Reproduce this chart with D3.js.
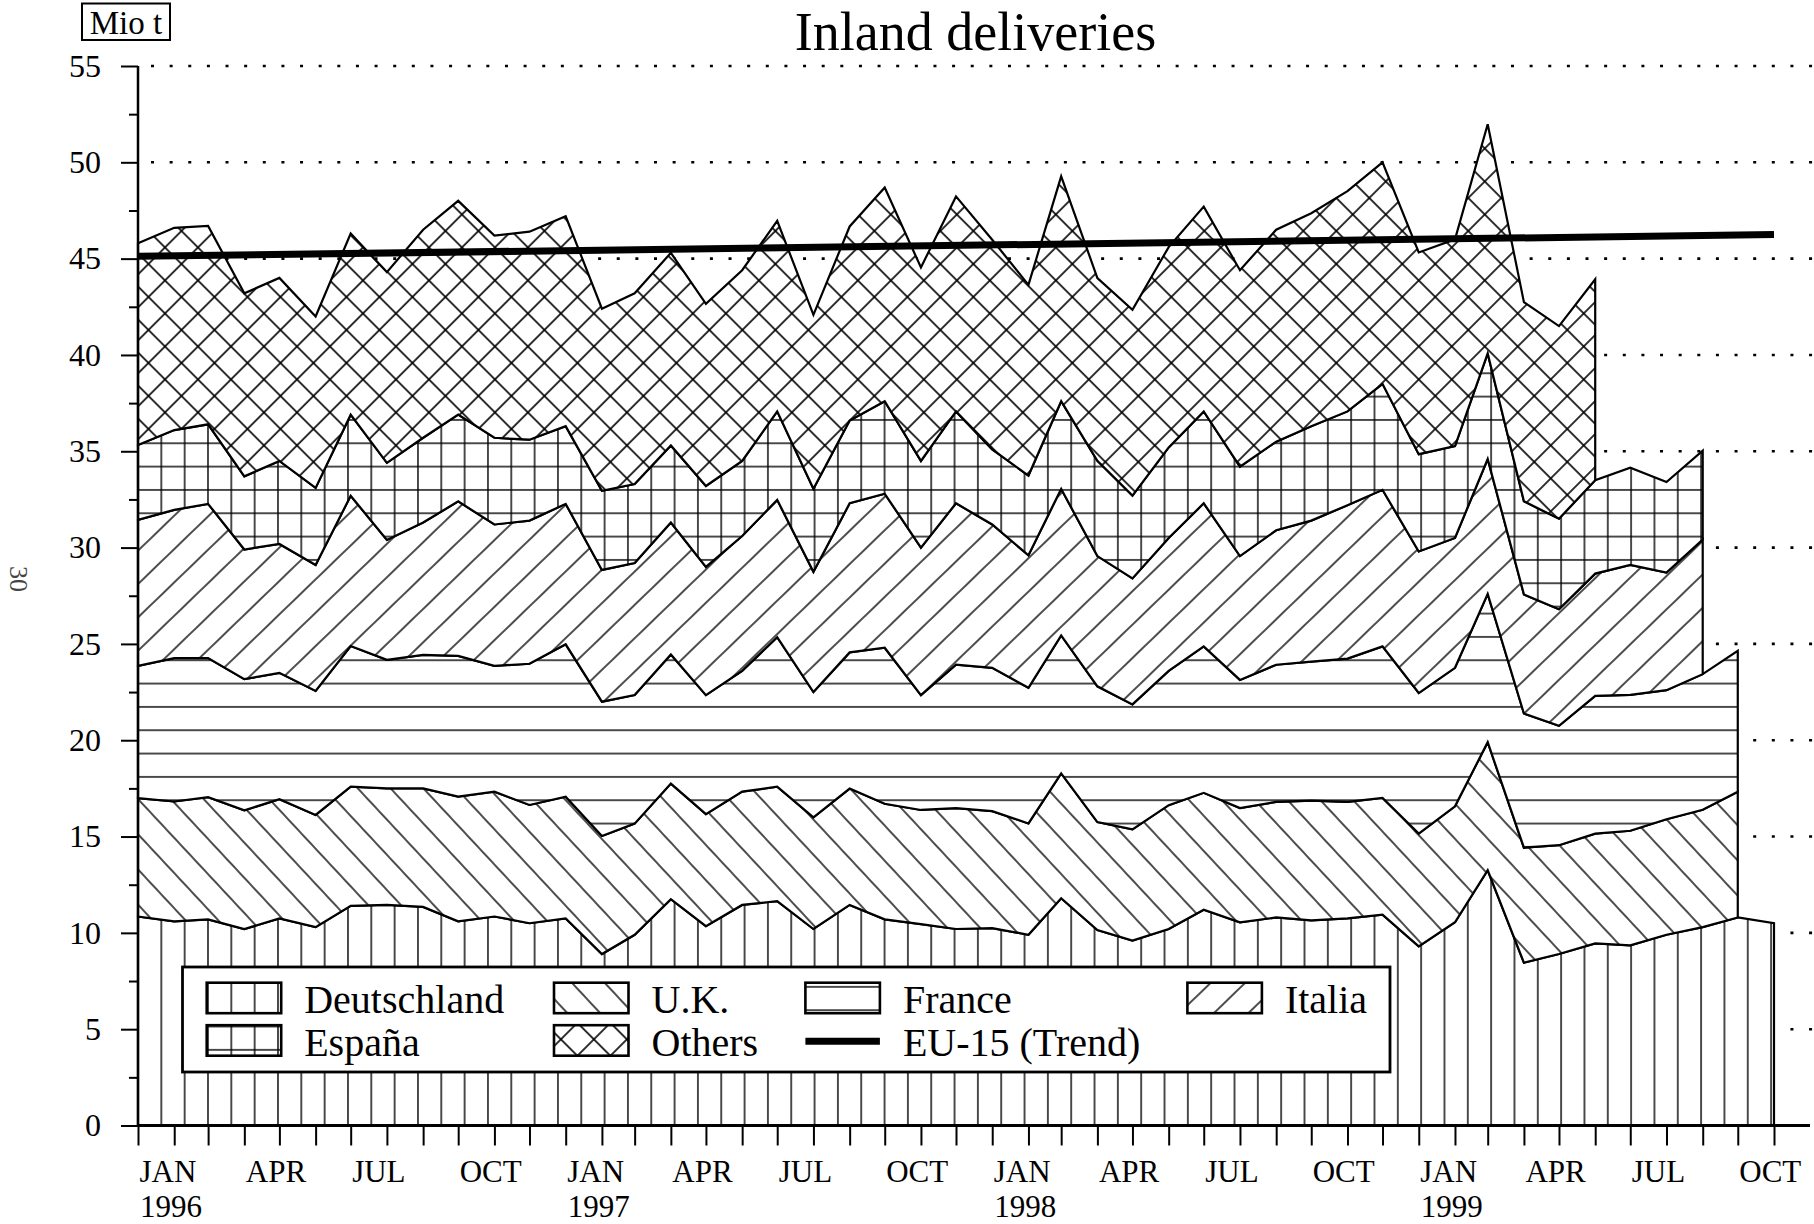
<!DOCTYPE html>
<html>
<head>
<meta charset="utf-8">
<script src="https://cdn.jsdelivr.net/npm/d3@7"></script>
<style>
  html, body { margin: 0; padding: 0; background: #fff; }
  svg { display: block; font-family: "Liberation Serif", "Times New Roman", serif; }
</style>
</head>
<body>
<svg id="chart" width="1814" height="1224"></svg>
<script>
// Monthly inland deliveries, Mio t (Jan 1996 .. Nov 1999)
const months = d3.timeMonth.range(new Date(1996, 0, 1), new Date(1999, 11, 1));

const deutschland = [10.85, 10.6, 10.7, 10.2, 10.75, 10.3, 11.4, 11.45, 11.35, 10.6, 10.85, 10.5,
  10.75, 8.9, 9.9, 11.75, 10.35, 11.45, 11.65, 10.2, 11.45, 10.7, 10.45, 10.2,
  10.25, 9.9, 11.8, 10.15, 9.6, 10.2, 11.2, 10.55, 10.8, 10.65, 10.75, 10.95,
  9.3, 10.55, 13.25, 8.45, 8.9, 9.45, 9.35, 9.9, 10.3, 10.8, 10.5];
const uk = [6.14, 6.22, 6.34, 6.16, 6.19, 5.82, 6.19, 6.05, 6.15, 6.47, 6.48, 6.14,
  6.32, 6.13, 5.77, 6.0, 5.81, 5.88, 5.94, 5.8, 6.04, 6.0, 5.93, 6.28,
  6.07, 5.78, 6.48, 5.6, 5.77, 6.43, 6.07, 5.93, 6.0, 6.21, 6.05, 6.05,
  5.85, 6.02, 6.65, 5.97, 5.65, 5.7, 5.95, 6.0, 6.09, 6.52];
const france = [6.87, 7.44, 7.22, 6.81, 6.56, 6.44, 7.3, 6.67, 6.93, 7.31, 6.53, 7.33,
  7.91, 6.97, 6.68, 6.7, 6.18, 6.27, 7.76, 6.5, 7.07, 8.1, 5.96, 7.44,
  7.44, 7.04, 7.16, 7.05, 6.49, 6.97, 7.6, 6.65, 7.12, 7.22, 7.44, 7.87,
  7.3, 7.19, 7.7, 6.97, 6.2, 7.15, 7.05, 6.7, 7.04, 7.32];
const italia = [7.58, 7.7, 8.01, 6.73, 6.69, 6.54, 7.8, 6.23, 6.87, 8.02, 7.34, 7.43,
  7.29, 6.84, 6.85, 6.85, 6.66, 7.0, 7.13, 6.24, 7.74, 8.0, 7.66, 8.38,
  7.44, 6.88, 7.61, 6.76, 6.54, 6.9, 7.43, 6.43, 6.98, 7.32, 7.96, 8.13,
  7.35, 6.74, 7.0, 6.18, 6.05, 6.35, 6.75, 6.1, 6.99];
const espana = [3.89, 4.14, 4.13, 3.8, 4.31, 4.0, 4.21, 4.0, 4.4, 4.5, 4.5, 4.2,
  4.03, 4.11, 4.1, 4.0, 4.2, 3.9, 4.59, 4.31, 4.3, 4.8, 4.5, 4.77,
  3.9, 4.14, 4.55, 4.94, 4.3, 4.7, 4.77, 4.64, 4.6, 4.9, 4.87, 5.5,
  5.05, 4.77, 5.48, 4.83, 4.7, 4.85, 5.05, 4.7, 4.61];
const others = [10.47, 10.5, 10.3, 9.5, 9.5, 8.9, 9.4, 9.9, 10.8, 11.1, 10.5, 10.8,
  10.9, 9.45, 9.9, 10.0, 9.45, 9.9, 9.89, 9.03, 10.07, 11.09, 10.04, 11.16,
  10.88, 9.9, 11.67, 9.49, 9.64, 10.4, 10.63, 10.2, 11.0, 11.06, 11.43, 11.5,
  10.47, 10.73, 11.9, 10.34, 10.0, 10.43];

// EU-15 trend line (start / end)
const trendDates = [new Date(1996, 0, 1), new Date(1999, 10, 1)];
const trendValues = [45.12, 46.25];

const yTicks = d3.range(0, 56, 5);
const monthNames = ["JAN", "FEB", "MAR", "APR", "MAY", "JUN", "JUL", "AUG", "SEP", "OCT", "NOV", "DEC"];

const W = 1814, H = 1224;
const svg = d3.select("#chart");

const x = d3.scaleTime().domain([months[0], months[months.length - 1]]).range([138, 1774]);
const y = d3.scaleLinear().domain([0, 55]).range([1125.5, 66]);

// ---- hatch patterns
const defs = svg.append("defs");
const sp = 23.33;
function pattern(id, opts) {
  const p = defs.append("pattern").attr("id", id)
    .attr("patternUnits", "userSpaceOnUse")
    .attr("width", opts.w).attr("height", opts.h)
    .attr("x", opts.x || 0).attr("y", opts.y || 0);
  if (opts.rotate) p.attr("patternTransform", `rotate(${opts.rotate})`);
  p.append("rect").attr("width", opts.w).attr("height", opts.h).attr("fill", "#fff");
  return p;
}
function ln(p, x1, y1, x2, y2, w) {
  p.append("line").attr("x1", x1).attr("y1", y1).attr("x2", x2).attr("y2", y2)
    .attr("stroke", "#000").attr("stroke-width", w || 1.4);
}
let p;
p = pattern("p-de", { w: sp, h: sp, x: 138 - sp / 2 });
ln(p, sp / 2, 0, sp / 2, sp);
p = pattern("p-es", { w: sp, h: sp, x: 138 - sp / 2, y: -sp / 2 });
ln(p, sp / 2, 0, sp / 2, sp); ln(p, 0, sp / 2, sp, sp / 2);
p = pattern("p-fr", { w: sp, h: sp, y: 7 - sp / 2 });
ln(p, 0, sp / 2, sp, sp / 2);
p = pattern("p-it", { w: 12, h: 24, rotate: -44 });
ln(p, -1, 12, 13, 12);
p = pattern("p-uk", { w: 12, h: 24, rotate: 47 });
ln(p, -1, 12, 13, 12);
p = pattern("p-ot", { w: sp, h: sp, rotate: 45 });
ln(p, 0, sp / 2, sp, sp / 2, 1.6); ln(p, sp / 2, 0, sp / 2, sp, 1.6);

// ---- stacked series
const series = [
  { name: "Deutschland", values: deutschland, fill: "url(#p-de)" },
  { name: "U.K.", values: uk, fill: "url(#p-uk)" },
  { name: "France", values: france, fill: "url(#p-fr)" },
  { name: "Italia", values: italia, fill: "url(#p-it)" },
  { name: "España", values: espana, fill: "url(#p-es)" },
  { name: "Others", values: others, fill: "url(#p-ot)" }
];
let prev = null;
series.forEach(s => {
  s.points = s.values.map((v, i) => {
    const y0 = prev ? prev.points[i].y1 : 0;
    return { date: months[i], y0, y1: y0 + v };
  });
  prev = s;
});

// dotted grid lines
svg.append("g").selectAll("line").data(yTicks.filter(d => d > 0)).join("line")
  .attr("x1", 151).attr("x2", W)
  .attr("y1", d => y(d)).attr("y2", d => y(d))
  .attr("stroke", "#000").attr("stroke-width", 2.6)
  .attr("stroke-dasharray", "3 15.63");

const area = d3.area()
  .x(d => x(d.date)).y0(d => y(d.y0)).y1(d => y(d.y1))
  .curve(d3.curveLinear);

svg.append("g").selectAll("path").data(series).join("path")
  .attr("d", s => area(s.points) + "Z")
  .attr("fill", s => s.fill)
  .attr("stroke", "#000").attr("stroke-width", 2.2)
  .attr("stroke-linejoin", "miter");

// trend
svg.append("line")
  .attr("x1", x(trendDates[0])).attr("y1", y(trendValues[0]))
  .attr("x2", x(trendDates[1])).attr("y2", y(trendValues[1]))
  .attr("stroke", "#000").attr("stroke-width", 7);

// ---- y axis
const yAxis = svg.append("g").attr("transform", `translate(${x.range()[0]},0)`)
  .call(d3.axisLeft(y).tickValues(yTicks).tickSize(17).tickPadding(20));
svg.append("g").attr("transform", `translate(${x.range()[0]},0)`)
  .call(d3.axisLeft(y).tickValues(yTicks.slice(0, -1).map(d => d + 2.5)).tickSize(9).tickFormat(""))
  .call(g => g.select(".domain").remove());
svg.selectAll("g.tick line").attr("stroke", "#000").attr("stroke-width", 2);
yAxis.select(".domain").attr("stroke", "#000").attr("stroke-width", 2.5).attr("d", `M0,${y(0)}V${y(55)}`);
yAxis.selectAll("text")
  .attr("font-family", "Liberation Serif, Times New Roman, serif")
  .attr("font-size", 32).attr("fill", "#000");
yAxis.attr("font-family", null);

// ---- x axis
const xAxis = svg.append("g").attr("transform", `translate(0,${y(0)})`)
  .call(d3.axisBottom(x).tickValues(months).tickSize(20).tickFormat(""));
xAxis.select(".domain").remove();
xAxis.selectAll("line").attr("stroke", "#000").attr("stroke-width", 2);
svg.append("line").attr("x1", x.range()[0]).attr("x2", W - 4)
  .attr("y1", y(0)).attr("y2", y(0)).attr("stroke", "#000").attr("stroke-width", 3);

const labeled = months.filter(d => d.getMonth() % 3 === 0);
const xl = svg.append("g").attr("font-size", 31).attr("fill", "#000");
xl.selectAll("text.m").data(labeled).join("text").attr("class", "m")
  .attr("x", d => x(d) + 1.5).attr("y", 1182)
  .text(d => monthNames[d.getMonth()]);
xl.selectAll("text.yr").data(labeled.filter(d => d.getMonth() === 0)).join("text").attr("class", "yr")
  .attr("x", d => x(d) + 2).attr("y", 1217)
  .text(d => d.getFullYear());

// ---- title, unit, page number
svg.append("text").attr("x", 975.5).attr("y", 50).attr("text-anchor", "middle")
  .attr("font-size", 54).text("Inland deliveries");
svg.append("rect").attr("x", 82).attr("y", 3.5).attr("width", 88).attr("height", 36.5)
  .attr("fill", "#fff").attr("stroke", "#000").attr("stroke-width", 2);
svg.append("text").attr("x", 126).attr("y", 33.5).attr("text-anchor", "middle")
  .attr("font-size", 33).text("Mio t");
svg.append("text").attr("transform", "translate(10,579) rotate(90)")
  .attr("text-anchor", "middle").attr("font-size", 26).attr("fill", "#444").text("30");

// ---- legend
const lg = svg.append("g");
lg.append("rect").attr("x", 182.5).attr("y", 967).attr("width", 1207.5).attr("height", 105)
  .attr("fill", "#fff").attr("stroke", "#000").attr("stroke-width", 2.8);
const legendItems = [
  { s: series[0], col: 0, row: 0 }, { s: series[1], col: 1, row: 0 },
  { s: series[2], col: 2, row: 0 }, { s: series[3], col: 3, row: 0 },
  { s: series[4], col: 0, row: 1 }, { s: series[5], col: 1, row: 1 },
  { s: { name: "EU-15 (Trend)", trend: true }, col: 2, row: 1 }
];
const colX = [206.7, 554, 805.4, 1187.4];
const rowY = [982.7, 1025.2];
legendItems.forEach(it => {
  const sx = colX[it.col], sy = rowY[it.row];
  if (it.s.trend) {
    lg.append("line").attr("x1", sx).attr("x2", sx + 74.5)
      .attr("y1", sy + 16).attr("y2", sy + 16)
      .attr("stroke", "#000").attr("stroke-width", 7);
  } else {
    lg.append("rect").attr("x", sx).attr("y", sy).attr("width", 74.5).attr("height", 30.5)
      .attr("fill", it.s.fill).attr("stroke", "#000").attr("stroke-width", 2.6);
  }
  lg.append("text").attr("x", sx + 97.5).attr("y", sy + 30.5)
    .attr("font-size", 40).text(it.s.name);
});
</script>
</body>
</html>
